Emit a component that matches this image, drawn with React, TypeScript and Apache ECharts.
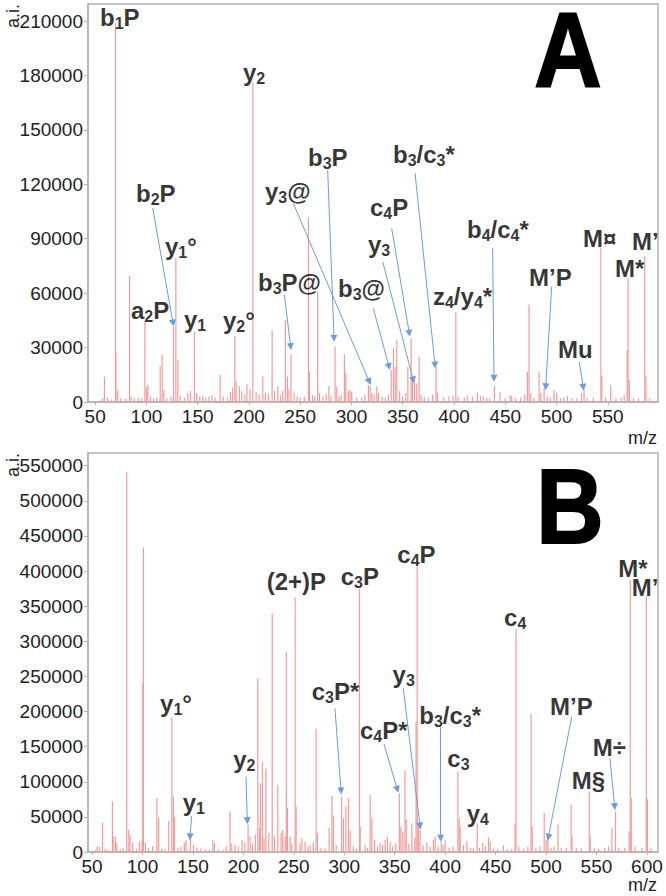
import React, { useEffect, useRef } from "react";
import * as echarts from "echarts";

// ---------- Panel A data ----------
const topXTicks = [50, 100, 150, 200, 250, 300, 350, 400, 450, 500, 550];
const topYTicks = [0, 30000, 60000, 90000, 120000, 150000, 180000, 210000];
const topPeaks: [number, number][] = [
  [57, 2000], [59, 14000], [62, 2500], [66, 1500], [69.8, 209000], [70.2, 27000], [72, 6600], [75, 2000], [80, 1800],
  [83.5, 69600], [85, 3000], [88, 2000], [92, 2500], [95, 1800], [98.5, 44200], [100, 8000], [101.4, 9400], [104, 3000],
  [107, 2000], [110, 2500], [113.4, 19800], [115.3, 26000], [117, 6600], [120, 2000], [124, 3000], [126.4, 41500],
  [128.7, 79400], [130.6, 23100], [133, 3500], [137, 2500], [140.4, 5000], [143, 6000], [146.8, 38700], [149, 5000],
  [152, 3000], [155, 3500], [158, 2500], [161, 3000], [164, 3800], [167, 2500], [171.9, 14900], [175, 3000], [179, 2500],
  [182, 5500], [184, 8000], [186.2, 36400], [187.5, 11200], [190.7, 8700], [193, 6000], [196, 4000], [198, 10000],
  [201, 7000], [203.8, 176500], [207, 5500], [210, 4000], [213.5, 14000], [216, 5000], [219, 4500], [222.6, 39700],
  [225, 6000], [228.2, 8700], [231, 4000], [233, 6000], [235.5, 45200], [237.5, 14000], [239, 7000], [241, 26300],
  [244, 5000], [247, 3000], [250, 2500], [254, 3000], [258, 101800], [259, 16700], [262, 4000], [264, 3000], [267, 61000],
  [268.8, 5000], [272, 3000], [275.3, 4400], [278, 9000], [280, 3000], [284, 30500], [285.7, 8700], [288, 3000],
  [290, 4000], [293.1, 26300], [294.5, 15800], [297, 6000], [298.7, 6600], [300.3, 5500], [305, 2500], [310, 2500],
  [313, 4000], [316.5, 9400], [318.2, 8700], [320, 5000], [322, 4000], [324.7, 8700], [326.3, 5000], [330, 3000],
  [333, 2500], [336, 4000], [338.7, 17600], [341, 29600], [342.6, 19300], [344.2, 34200], [347, 6000], [350, 3000],
  [353, 5000], [355, 19300], [358.2, 35100], [359.4, 14000], [361.4, 11000], [363.7, 10300], [366, 25000], [368, 4000],
  [371, 3000], [375, 2500], [379, 4000], [382.5, 19500], [384, 5000], [390, 2500], [395, 3000], [399, 3500],
  [401.8, 49600], [404, 3000], [410, 2500], [413, 3500], [418, 3000], [422.8, 5000], [426, 3500], [428.7, 3000],
  [432, 2500], [435, 2000], [439.4, 8800], [445, 5700], [450, 2000], [454.7, 3900], [456.3, 3300], [460, 2000],
  [465, 2500], [469, 4000], [471.6, 16700], [473.2, 53700], [474.9, 5000], [478, 2500], [483, 16700], [484.7, 5000],
  [487.9, 7700], [491, 3000], [494, 2500], [497.6, 6600], [500.2, 5000], [504, 2000], [507, 2500], [510.6, 3300],
  [515, 2000], [520, 2000], [524.6, 5000], [526.9, 6600], [530, 2000], [536, 2500], [543.3, 84700], [544.1, 14000],
  [548, 2500], [552.9, 9400], [558, 2000], [563, 2500], [566, 4000], [568.9, 28700], [569.8, 68200], [571, 12000],
  [575, 2000], [580, 2000], [586.1, 80100], [587.3, 14000], [591, 2000],
];
// [text, m/z, intensity] of the label's left-middle point ("_" marks a subscript digit)
const topLabels: [string, number, number][] = [
  ["b_1P", 54.7, 212100], ["y_2", 194.2, 181900], ["b_2P", 89.8, 114700], ["y_1°", 118.1, 85800],
  ["a_2P", 84.9, 50300], ["y_1", 136.6, 45400], ["y_2°", 174.7, 45000], ["b_3P@", 208.8, 66000],
  ["y_3@", 215.6, 115800], ["b_3P", 257.6, 134900], ["b_3@", 286.9, 62700], ["c_4P", 318.1, 107300],
  ["y_3", 316.1, 86900], ["b_3/c_3*", 340.5, 136400], ["z_4/y_4*", 379.5, 57900], ["b_4/c_4*", 412.7, 95000],
  ["M’P", 473.2, 68400], ["Mu", 501.4, 28900], ["M¤", 525.8, 90000], ["M*", 557, 73500], ["M’", 573.6, 88300],
];
// [fromMz, fromI, toMz, toI]
const topArrows: [number, number, number, number][] = [
  [106.1, 106900, 125.9, 43500], [234.5, 59000, 240.7, 30500], [243.3, 109500, 317.4, 11200],
  [276.8, 127900, 283, 35100], [321.3, 51700, 336.6, 19500], [330.5, 77300, 360.3, 12100],
  [339.2, 95800, 356.4, 37900], [362, 126100, 381.5, 20400], [437.7, 84700, 439, 13100],
  [495.3, 63600, 489.5, 8400], [522.2, 22200, 526.1, 8100],
];

// ---------- Panel B data ----------
const botXTicks = [50, 100, 150, 200, 250, 300, 350, 400, 450, 500, 550, 600];
const botYTicks = [0, 50000, 100000, 150000, 200000, 250000, 300000, 350000, 400000, 450000, 500000, 550000];
const botPeaks: [number, number][] = [
  [53, 3000], [55, 8000], [57.3, 8000], [60.3, 42000], [63, 5000], [66, 3000], [70.2, 72000], [71, 22000],
  [73.1, 22200], [74.5, 12700], [78, 4000], [81, 6000], [84.4, 540600], [86.4, 31700], [87.7, 24600], [90.3, 13000],
  [94, 5000], [96.9, 15000], [99.6, 17000], [100.3, 241000], [100.9, 434000], [102.9, 13000], [106, 6000],
  [110, 8000], [114.3, 76800], [116.1, 48400], [119, 5000], [122, 4000], [126, 44000], [129.1, 192000],
  [130.6, 79000], [131.6, 50000], [135, 6000], [138, 8000], [141.5, 13000], [143.2, 17000], [147.5, 22000],
  [150.5, 10000], [154, 6000], [158, 5000], [162, 4000], [166, 3000], [169.7, 17000], [171.3, 13000], [175, 4000],
  [180, 3000], [183, 8000], [186.8, 57800], [188.5, 12000], [191.8, 10000], [195, 8000], [198.7, 17000],
  [201.4, 13000], [204.7, 38800], [206.7, 22000], [209, 12000], [211.9, 25000], [214.3, 247500], [215.9, 34000],
  [216.8, 98000], [218.9, 128000], [220.5, 20000], [222.3, 119000], [225.2, 27000], [228.6, 340000], [230.8, 22000],
  [234.1, 95700], [237.4, 27000], [239, 31000], [241.4, 22000], [242.6, 284500], [243.7, 62600], [246.3, 22000],
  [248, 12000], [251.3, 362200], [252.3, 65000], [256.2, 13000], [258, 20000], [261.2, 15000], [264, 8000],
  [266.2, 10000], [269.4, 13000], [272.1, 175000], [273.4, 27000], [277, 6000], [281, 5000], [285, 35000],
  [287.8, 80000], [289.3, 52000], [292, 10000], [297.4, 79000], [299.2, 48000], [301.6, 65000], [304.2, 76800],
  [305.8, 31000], [309, 8000], [312, 5000], [315.1, 374600], [315.8, 36000], [320.7, 10000], [323, 6000],
  [325.7, 81500], [327.4, 48000], [330, 17000], [333, 8000], [335.6, 13000], [338, 10000], [340.5, 17000],
  [342.8, 22000], [345.5, 15000], [348, 8000], [351, 12000], [354.6, 84000], [356.1, 36000], [358, 29000],
  [360.2, 115700], [361.4, 47000], [364, 12000], [367, 41000], [370, 20000], [371.2, 185800], [372.3, 406400],
  [373.6, 38000], [375.2, 31000], [378, 10000], [381.9, 13000], [385, 8000], [388.4, 17000], [390.1, 22000],
  [393, 8000], [396.1, 15000], [398, 10000], [400, 17000], [404, 6000], [408, 8000], [412.6, 114700], [413.9, 47000],
  [414.9, 36000], [418, 10000], [421.5, 15000], [425, 6000], [428, 5000], [431.8, 41000], [434, 6000], [437.4, 13000],
  [440, 8000], [443, 21000], [444.6, 15000], [448, 5000], [452, 4000], [457.8, 10000], [462, 4000], [466, 5000],
  [469.3, 41000], [470.2, 317300], [473, 8000], [478, 5000], [482, 8000], [485.2, 196800], [486.3, 36000],
  [490, 6000], [494, 8000], [498.2, 55500], [500.2, 17000], [501.9, 27000], [505, 6000], [508, 8000], [511.8, 38800],
  [515, 6000], [520, 6000], [524.9, 67300], [525.8, 22000], [530, 6000], [535, 5000], [542.9, 86200], [543.8, 22000],
  [548, 6000], [552, 5000], [558, 6000], [562, 8000], [565.3, 34000], [568.9, 57800], [572, 6000], [578, 6000],
  [582.4, 30000], [583.5, 387400], [584.5, 76800], [588, 8000], [595, 6000], [599.4, 363700], [600.5, 75000],
  [604, 5000],
];
const botLabels: [string, number, number][] = [
  ["y_1°", 117.4, 212100], ["y_1", 139.9, 69800], ["y_2", 190, 131400], ["(2+)P", 223.1, 384400],
  ["c_3P*", 267.7, 227800], ["c_3P", 296.5, 392500], ["c_4P", 352.6, 424200], ["y_3", 347.9, 253000],
  ["c_4P*", 315.6, 173400], ["b_3/c_3*", 374.4, 194600], ["c_3", 402.2, 132400], ["y_4", 421.4, 55500],
  ["c_4", 458.4, 333800], ["M’P", 504, 207400], ["M÷", 546.3, 149200], ["M§", 525.5, 101800],
  ["M*", 571.6, 403300], ["M’", 584.9, 376500],
];
const botArrows: [number, number, number, number][] = [
  [148.8, 51200, 147.1, 21800], [202.6, 107200, 203.9, 44600], [290.8, 204600, 296.8, 86800],
  [339.4, 153700, 352.6, 89300], [358.5, 233000, 375.1, 37000], [395.6, 177500, 395.6, 19500],
  [525.5, 192600, 502.3, 20900], [563.4, 133400, 568.1, 64500],
];

const FONT = "'Liberation Sans', Arial, sans-serif";
const PEAK_COLOR = "#f29c9c";
const ARROW_COLOR = "#6f9be0";
const AXIS_COLOR = "#b3b3b3";

const toRich = (s: string) => s.replace(/_(\d)/g, "{s|$1}");

function spectrumSeries(peaks: [number, number][], idx: number) {
  return {
    type: "custom",
    coordinateSystem: "cartesian2d",
    xAxisIndex: idx,
    yAxisIndex: idx,
    data: peaks,
    encode: { x: 0, y: 1 },
    silent: true,
    z: 2,
    renderItem: (_p: any, api: any) => {
      const x = api.value(0);
      const y = api.value(1);
      const a = api.coord([x, 0]);
      const b = api.coord([x, y]);
      return {
        type: "line",
        shape: { x1: a[0], y1: a[1], x2: b[0], y2: b[1] },
        style: { stroke: PEAK_COLOR, lineWidth: 1.2 },
      };
    },
  };
}

function labelSeries(labels: [string, number, number][], arrows: [number, number, number, number][], idx: number) {
  return {
    type: "scatter",
    xAxisIndex: idx,
    yAxisIndex: idx,
    symbolSize: 0,
    silent: true,
    z: 5,
    data: labels.map((l) => ({ value: [l[1], l[2]], name: l[0] })),
    label: {
      show: true,
      position: "right",
      distance: 0,
      formatter: (p: any) => toRich(p.name),
      fontFamily: FONT,
      fontSize: 24,
      fontWeight: "bold",
      color: "#000",
      rich: {
        s: { fontFamily: FONT, fontSize: 16, fontWeight: "bold", color: "#000", padding: [12, 0, 0, 0] },
      },
    },
    markLine: {
      silent: true,
      symbol: ["none", "triangle"],
      symbolSize: 7,
      lineStyle: { color: ARROW_COLOR, width: 1, type: "solid" },
      label: { show: false },
      emphasis: { disabled: true },
      z: 4,
      data: arrows.map((a) => [{ coord: [a[0], a[1]] }, { coord: [a[2], a[3]] }]),
    },
  };
}

function xAxis(idx: number, min: number, max: number, ticks: number[]) {
  return {
    type: "value",
    gridIndex: idx,
    min,
    max,
    axisLine: { show: true, onZero: false, lineStyle: { color: AXIS_COLOR, width: 1.5 } },
    axisTick: { show: true, length: 3, customValues: ticks, lineStyle: { color: AXIS_COLOR } },
    axisLabel: {
      customValues: ticks,
      formatter: (v: number) => String(v),
      fontFamily: FONT,
      fontSize: 19,
      color: "#222",
      margin: 5,
    },
    splitLine: { show: false },
  };
}

function yAxis(idx: number, max: number, ticks: number[]) {
  return {
    type: "value",
    gridIndex: idx,
    min: 0,
    max,
    axisLine: { show: true, lineStyle: { color: AXIS_COLOR, width: 1.5 } },
    axisTick: { show: true, length: 4, customValues: ticks, lineStyle: { color: AXIS_COLOR } },
    axisLabel: {
      customValues: ticks,
      formatter: (v: number) => String(v),
      fontFamily: FONT,
      fontSize: 19,
      color: "#222",
      margin: 5,
    },
    splitLine: { show: false },
  };
}

export default function App() {
  const ref = useRef<HTMLDivElement>(null);
  useEffect(() => {
    if (!ref.current) return;
    const chart = echarts.init(ref.current, null, { renderer: "svg" });
    const bigLetter = (t: string, x: number, y: number) => ({
      type: "text",
      x,
      y,
      scaleX: 0.88,
      z: 10,
      style: {
        text: t,
        x: 0,
        y: 0,
        fontFamily: FONT,
        fontSize: 106,
        fontWeight: "bold",
        fill: "#000",
        stroke: "#000",
        lineWidth: 2,
        align: "center",
        verticalAlign: "middle",
        textAlign: "center",
        textVerticalAlign: "middle",
      },
    });
    const smallText = (t: string, x: number, y: number, rot: number, align: string) => ({
      type: "text",
      x,
      y,
      rotation: rot,
      z: 10,
      style: {
        text: t,
        x: 0,
        y: 0,
        fontFamily: FONT,
        fontSize: 18,
        fill: "#222",
        align,
        verticalAlign: "middle",
        textAlign: align,
        textVerticalAlign: "middle",
      },
    });
    chart.setOption({
      animation: false,
      backgroundColor: "#fff",
      grid: [
        { left: 88, top: 4, width: 570, height: 398, show: true, borderColor: AXIS_COLOR, borderWidth: 1.5, backgroundColor: "transparent" },
        { left: 88, top: 453, width: 570, height: 399, show: true, borderColor: AXIS_COLOR, borderWidth: 1.5, backgroundColor: "transparent" },
      ],
      xAxis: [xAxis(0, 43, 599, topXTicks), xAxis(1, 46, 611, botXTicks)],
      yAxis: [yAxis(0, 219400, topYTicks), yAxis(1, 568000, botYTicks)],
      series: [
        spectrumSeries(topPeaks, 0),
        spectrumSeries(botPeaks, 1),
        labelSeries(topLabels, topArrows, 0),
        labelSeries(botLabels, botArrows, 1),
      ],
      graphic: [
        bigLetter("A", 568, 50),
        bigLetter("B", 570, 506),
        smallText("m/z", 657, 438, 0, "right"),
        smallText("m/z", 657, 885, 0, "right"),
        smallText("a.i.", 13, 16, Math.PI / 2, "center"),
        smallText("a.i.", 13, 465, Math.PI / 2, "center"),
      ],
    });
    return () => chart.dispose();
  }, []);
  return <div ref={ref} style={{ position: "fixed", left: 0, top: 0, width: 666, height: 896, background: "#fff" }} />;
}
